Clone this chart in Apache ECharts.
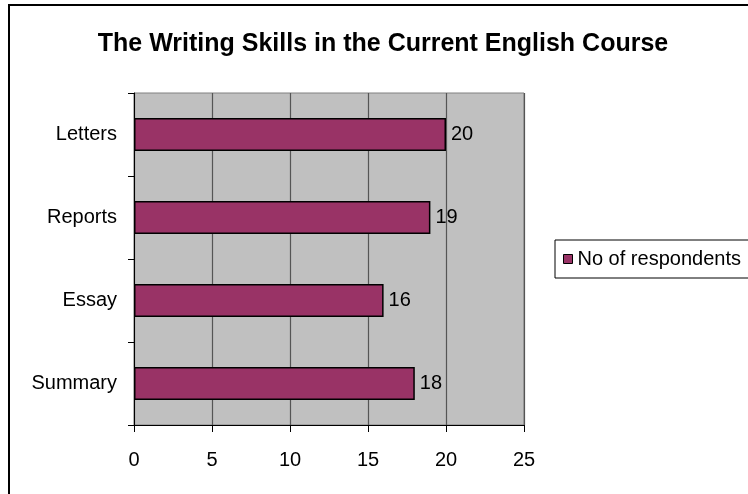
<!DOCTYPE html>
<html>
<head>
<meta charset="utf-8">
<script src="https://cdn.jsdelivr.net/npm/echarts@6/dist/echarts.min.js"></script>
<style>
  html, body { margin: 0; padding: 0; background: #fff; }
  #chart { width: 748px; height: 494px; }
</style>
</head>
<body>
<div id="chart"></div>
<script>
"use strict";

// data
const skills = ["Summary", "Essay", "Reports", "Letters"];
const respondents = [18, 16, 19, 20];
const seriesName = "No of respondents";

const chart = echarts.init(document.getElementById("chart"), null, { renderer: "canvas" });

const font = "Liberation Sans, Arial, sans-serif";

chart.setOption({
  animation: false,
  textStyle: { fontFamily: font },
  title: {
    text: "The Writing Skills in the Current English Course",
    left: 378,
    textAlign: "center",
    top: 27,
    textStyle: { fontSize: 25, fontWeight: "bold", color: "#000", fontFamily: font }
  },
  graphic: [
    {
      type: "polyline",
      shape: { points: [[9, 494], [9, 5], [748, 5]] },
      style: { stroke: "#000", lineWidth: 2, fill: null }
    }
  ],
  legend: {
    left: 555,
    top: 240,
    orient: "vertical",
    data: [seriesName],
    icon: "rect",
    itemWidth: 9,
    itemHeight: 9,
    itemGap: 0,
    padding: [9, 10, 9, 8],
    borderColor: "#000",
    borderWidth: 1,
    itemStyle: { borderColor: "#000", borderWidth: 1 },
    textStyle: { fontSize: 20, color: "#000", fontFamily: font }
  },
  grid: {
    left: 134,
    right: 224,
    top: 93,
    bottom: 69,
    show: true,
    backgroundColor: "#c0c0c0",
    borderColor: "#808080",
    borderWidth: 1
  },
  xAxis: {
    type: "value",
    min: 0,
    max: 25,
    interval: 5,
    axisLine: { show: true, lineStyle: { color: "#000", width: 1 } },
    axisTick: { show: true, length: 7, lineStyle: { color: "#000" } },
    axisLabel: { fontSize: 20, color: "#000", margin: 25, fontFamily: font },
    splitLine: { show: true, lineStyle: { color: "#555", width: 1.2 } }
  },
  yAxis: {
    type: "category",
    data: skills,
    axisLine: { show: true, lineStyle: { color: "#000", width: 1 } },
    axisTick: { show: true, length: 6, alignWithLabel: false, lineStyle: { color: "#000" } },
    axisLabel: { fontSize: 20, color: "#000", margin: 17, fontFamily: font },
    splitLine: { show: false }
  },
  series: [
    {
      name: seriesName,
      type: "bar",
      data: respondents,
      barWidth: 33,
      itemStyle: { color: "#993366", borderColor: "#000", borderWidth: 1.5 },
      label: {
        show: true,
        position: "right",
        distance: 5,
        fontSize: 20,
        color: "#000",
        fontFamily: font
      }
    }
  ]
});
</script>
</body>
</html>
